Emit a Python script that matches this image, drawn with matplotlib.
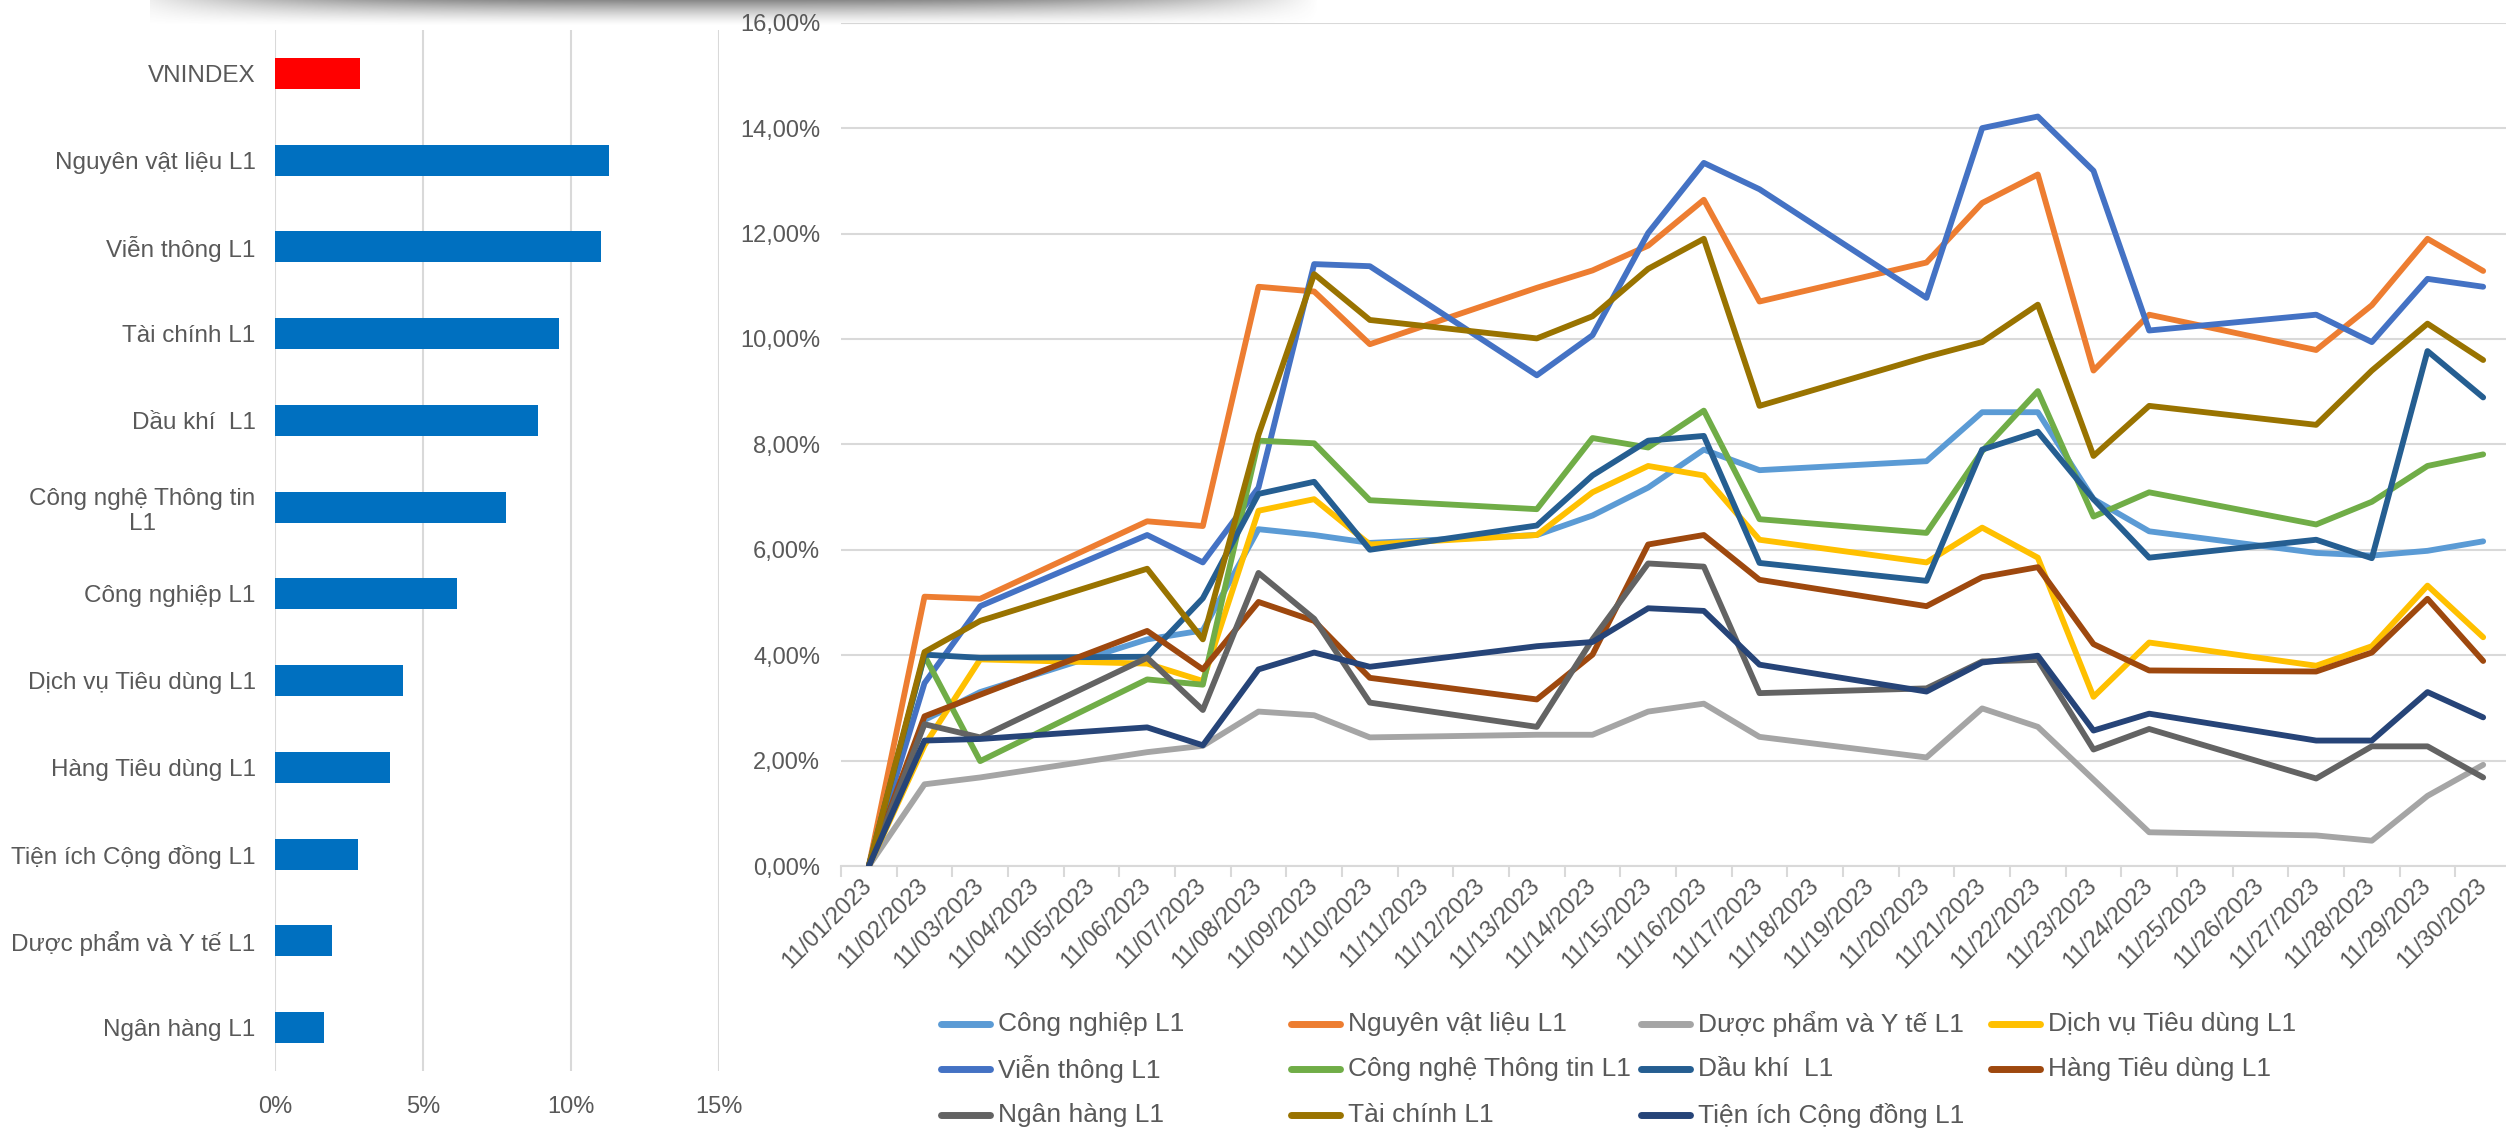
import numpy as np
import matplotlib
matplotlib.use('Agg')
import matplotlib.pyplot as plt
from matplotlib.lines import Line2D

plt.rcParams['font.family'] = ['Liberation Sans', 'DejaVu Sans']

TEXT = '#595959'
GRID = '#D9D9D9'

# --- left panel: return in November by sector ---
bar_labels = ['VNINDEX', 'Nguyên vật liệu L1', 'Viễn thông L1', 'Tài chính L1',
              'Dầu khí  L1', 'Công nghệ Thông tin\nL1', 'Công nghiệp L1',
              'Dịch vụ Tiêu dùng L1', 'Hàng Tiêu dùng L1', 'Tiện ích Cộng đồng L1',
              'Dược phẩm và Y tế L1', 'Ngân hàng L1']
bar_values = [2.87, 11.30, 11.00, 9.60, 8.88, 7.80, 6.15, 4.33, 3.87, 2.82, 1.92, 1.67]
bar_colors = ['#FF0000'] + ['#0070C0'] * 11

# --- right panel: cumulative return by day ---
dates = ['11/01/2023', '11/02/2023', '11/03/2023', '11/04/2023', '11/05/2023',
         '11/06/2023', '11/07/2023', '11/08/2023', '11/09/2023', '11/10/2023',
         '11/11/2023', '11/12/2023', '11/13/2023', '11/14/2023', '11/15/2023',
         '11/16/2023', '11/17/2023', '11/18/2023', '11/19/2023', '11/20/2023',
         '11/21/2023', '11/22/2023', '11/23/2023', '11/24/2023', '11/25/2023',
         '11/26/2023', '11/27/2023', '11/28/2023', '11/29/2023', '11/30/2023']
trading_days = [1, 2, 3, 6, 7, 8, 9, 10, 13, 14, 15, 16, 17, 20, 21, 22, 23, 24, 27, 28, 29, 30]

cong_nghiep = [0, 2.77, 3.30, 4.30, 4.47, 6.39, 6.28, 6.13, 6.28, 6.65, 7.18, 7.90,
               7.51, 7.68, 8.61, 8.61, 6.96, 6.35, 5.94, 5.89, 5.98, 6.16]
nguyen_vat_lieu = [0, 5.11, 5.07, 6.54, 6.45, 10.99, 10.90, 9.90, 10.97, 11.30, 11.77, 12.64,
                   10.71, 11.45, 12.58, 13.12, 9.40, 10.46, 9.79, 10.64, 11.90, 11.29]
duoc_pham = [0, 1.55, 1.68, 2.16, 2.28, 2.93, 2.86, 2.44, 2.49, 2.49, 2.93, 3.08,
             2.45, 2.06, 2.99, 2.64, 1.64, 0.64, 0.58, 0.48, 1.33, 1.92]
dich_vu_td = [0, 2.29, 3.92, 3.84, 3.51, 6.74, 6.96, 6.10, 6.28, 7.09, 7.59, 7.41,
              6.19, 5.76, 6.42, 5.85, 3.21, 4.24, 3.80, 4.17, 5.32, 4.34]
vien_thong = [0, 3.47, 4.93, 6.28, 5.76, 7.18, 11.42, 11.38, 9.31, 10.07, 12.01, 13.34,
              12.84, 10.78, 14.00, 14.22, 13.19, 10.16, 10.46, 9.94, 11.14, 10.99]
cntt = [0, 3.99, 1.99, 3.54, 3.44, 8.07, 8.02, 6.94, 6.77, 8.12, 7.94, 8.64,
        6.58, 6.32, 7.87, 9.01, 6.63, 7.09, 6.48, 6.91, 7.59, 7.81]
dau_khi = [0, 4.01, 3.95, 3.97, 5.08, 7.06, 7.29, 6.00, 6.46, 7.41, 8.07, 8.16,
           5.75, 5.41, 7.90, 8.24, 6.96, 5.85, 6.19, 5.84, 9.77, 8.89]
hang_td = [0, 2.84, 3.25, 4.46, 3.73, 5.01, 4.65, 3.57, 3.16, 4.01, 6.10, 6.28,
           5.43, 4.93, 5.48, 5.67, 4.21, 3.71, 3.69, 4.05, 5.07, 3.89]
ngan_hang = [0, 2.69, 2.44, 3.95, 2.96, 5.56, 4.69, 3.10, 2.64, 4.30, 5.74, 5.68,
             3.28, 3.37, 3.88, 3.91, 2.21, 2.60, 1.66, 2.27, 2.27, 1.68]
tai_chinh = [0, 4.06, 4.65, 5.64, 4.30, 8.18, 11.23, 10.36, 10.01, 10.43, 11.33, 11.90,
             8.73, 9.66, 9.94, 10.65, 7.78, 8.73, 8.37, 9.40, 10.29, 9.60]
tien_ich = [0, 2.38, 2.41, 2.63, 2.29, 3.73, 4.05, 3.78, 4.17, 4.25, 4.89, 4.84,
            3.82, 3.31, 3.86, 3.99, 2.57, 2.89, 2.38, 2.38, 3.30, 2.82]

series = [
    ('Công nghiệp L1', cong_nghiep, '#5B9BD5'),
    ('Nguyên vật liệu L1', nguyen_vat_lieu, '#ED7D31'),
    ('Dược phẩm và Y tế L1', duoc_pham, '#A5A5A5'),
    ('Dịch vụ Tiêu dùng L1', dich_vu_td, '#FFC000'),
    ('Viễn thông L1', vien_thong, '#4472C4'),
    ('Công nghệ Thông tin L1', cntt, '#70AD47'),
    ('Dầu khí  L1', dau_khi, '#255E91'),
    ('Hàng Tiêu dùng L1', hang_td, '#9E480E'),
    ('Ngân hàng L1', ngan_hang, '#636363'),
    ('Tài chính L1', tai_chinh, '#997300'),
    ('Tiện ích Cộng đồng L1', tien_ich, '#264478'),
]

W, H = 2506, 1129
fig = plt.figure(figsize=(W / 100, H / 100), dpi=100)

# ---------- bar chart ----------
ax1 = fig.add_axes([275 / W, 1 - 1071 / H, 444 / W, 1041 / H])
ypos = np.arange(len(bar_labels))
ax1.barh(ypos, bar_values, height=0.36, color=bar_colors, zorder=3)
ax1.set_ylim(len(bar_labels) - 0.5, -0.5)
ax1.set_xlim(0, 15)
ax1.set_xticks([0, 5, 10, 15])
ax1.set_xticklabels(['0%', '5%', '10%', '15%'])
ax1.set_yticks(ypos)
ax1.set_yticklabels(bar_labels, multialignment='center')
ax1.xaxis.grid(True, color=GRID, lw=1.5, zorder=0)
ax1.set_axisbelow(True)
for s in ax1.spines.values():
    s.set_visible(False)
ax1.tick_params(axis='y', length=0, pad=14, labelsize=17.5, labelcolor=TEXT)
ax1.tick_params(axis='x', length=0, pad=18, labelsize=17, labelcolor=TEXT)

# ---------- line chart ----------
ax2 = fig.add_axes([841 / W, 1 - 866 / H, 1670 / W, (866 - 22.7) / H])
xs = [d - 1 for d in trading_days]
for name, vals, col in series:
    ax2.plot(xs, vals, color=col, lw=4.2, solid_capstyle='round',
             solid_joinstyle='round', zorder=3)
ax2.set_xlim(-0.5, 29.5)
ax2.set_ylim(0, 16)
ax2.set_yticks(np.arange(0, 17, 2))
ax2.set_yticklabels([f'{v:.2f}%'.replace('.', ',') for v in np.arange(0, 17, 2)])
ax2.yaxis.grid(True, color=GRID, lw=1.5, zorder=0)
ax2.set_axisbelow(True)
for k in ['top', 'right', 'left']:
    ax2.spines[k].set_visible(False)
ax2.spines['bottom'].set_color(GRID)
ax2.spines['bottom'].set_linewidth(1.5)
ax2.set_xticks(range(len(dates)))
ax2.set_xticklabels(dates, rotation=45, ha='right', va='center', rotation_mode='anchor')
ax2.set_xticks(np.arange(-0.5, 30, 1), minor=True)
ax2.tick_params(axis='x', which='major', length=0, pad=12, labelsize=17, labelcolor=TEXT)
ax2.tick_params(axis='x', which='minor', length=8, width=1.5, color=GRID)
ax2.tick_params(axis='y', length=0, pad=15, labelsize=17, labelcolor=TEXT)

# ---------- legend (4 equal columns, row-major like the source) ----------
col_x = [938, 1288, 1638, 1988]
row_y = [1024, 1069, 1115]
for i, (name, vals, col) in enumerate(series):
    r, c = divmod(i, 4)
    x0 = col_x[c] / W
    y0 = 1 - row_y[r] / H
    fig.add_artist(Line2D([x0 + 3 / W, x0 + 52 / W], [y0, y0], transform=fig.transFigure,
                          color=col, lw=5, solid_capstyle='round'))
    fig.text(x0 + 60 / W, y0, name, fontsize=19, color=TEXT, va='center', ha='left')

# ---------- soft shadow from the cropped banner at the top ----------
axs = fig.add_axes([150 / W, 1 - 26 / H, 1200 / W, 26 / H])
gx = np.linspace(-1, 1, 400)
gy = np.linspace(0, 1, 50)
prof = np.clip(1.0 - np.abs(gx + 0.05) ** 3, 0, 1)
fade = (1 - gy) ** 1.4
alpha = np.outer(fade, prof) * 0.7
img = np.zeros((50, 400, 4))
img[..., :3] = 0.33
img[..., 3] = alpha
axs.imshow(img, aspect='auto', extent=[0, 1, 1, 0])
axs.axis('off')

fig.savefig('out.png', dpi=100)
